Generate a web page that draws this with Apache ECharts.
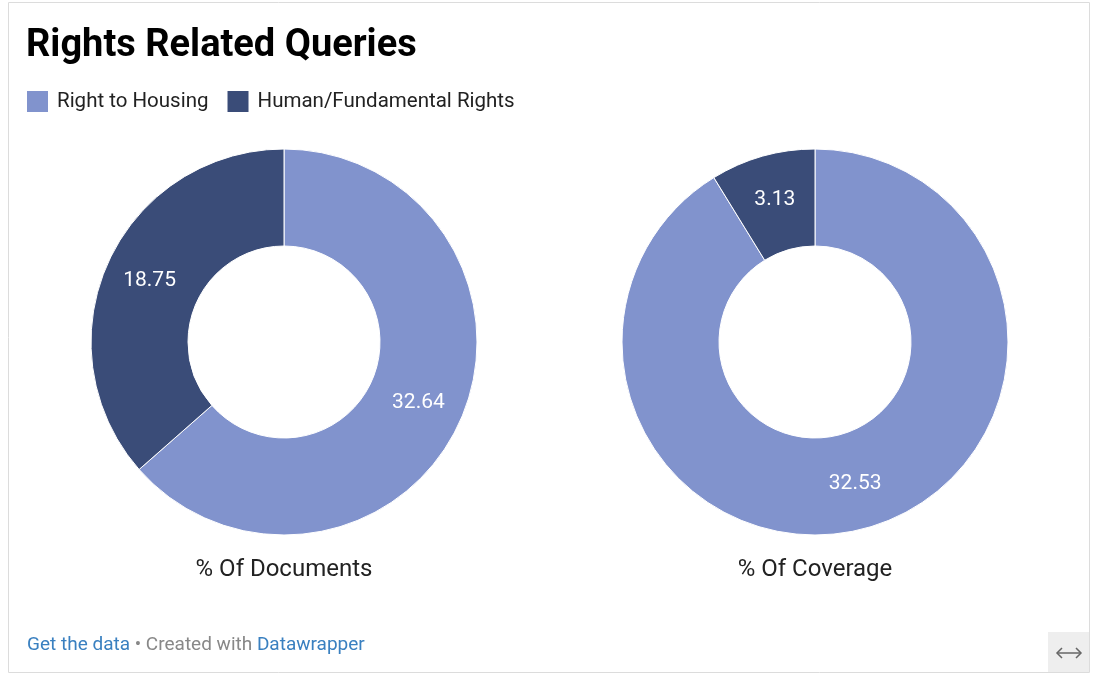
<!DOCTYPE html>
<html><head><meta charset="utf-8">
<script src="https://cdn.jsdelivr.net/npm/echarts@6/dist/echarts.min.js"></script>
<style>html,body{margin:0;padding:0;background:#fff}#c{width:1096px;height:677px}</style>
</head><body><div id="c"></div>
<script>
const categories = ['Right to Housing', 'Human/Fundamental Rights'];
const documentsValues = [32.64, 18.75];
const coverageValues = [32.53, 3.13];
const chartTitles = ['% Of Documents', '% Of Coverage'];
const colors = ['#8193cd', '#3a4c78'];

const chart = echarts.init(document.getElementById('c'));
const font = 'Roboto, "Noto Sans", sans-serif';
function pie(vals, cx) {
  return {
    type: 'pie', center: [cx, 342], radius: [96, 193], startAngle: 90, clockwise: true,
    silent: true, animation: false,
    itemStyle: { borderColor: '#fff', borderWidth: 1 },
    label: { position: 'inside', color: '#fff', fontSize: 21, fontFamily: font, formatter: p => p.value.toFixed(2) },
    labelLine: { show: false },
    data: vals.map((v, i) => ({ name: categories[i], value: v, itemStyle: { color: colors[i] } }))
  };
}
chart.setOption({
  animation: false,
  color: colors,
  title: [
    { text: 'Rights Related Queries', left: 21, top: 22, textStyle: { fontFamily: font, fontSize: 38, fontWeight: 'bold', color: '#000' } },
    { text: chartTitles[0], left: 279, textAlign: 'center', top: 553, textStyle: { fontFamily: font, fontSize: 24, fontWeight: 'normal', color: '#222' } },
    { text: chartTitles[1], left: 810, textAlign: 'center', top: 553, textStyle: { fontFamily: font, fontSize: 24, fontWeight: 'normal', color: '#222' } }
  ],
  legend: {
    left: 20, top: 84, icon: 'rect', itemWidth: 23, itemHeight: 23, itemGap: 17,
    selectedMode: false,
    textStyle: { fontFamily: font, fontSize: 20.5, color: '#222', padding: [0, 0, 0, 3] },
    data: categories
  },
  graphic: [
    { type: 'rect', shape: { x: 8.5, y: 2.5, width: 1081, height: 670 }, style: { fill: 'none', stroke: '#dcdcdc', lineWidth: 1 }, z: -1 },
    { type: 'rect', shape: { x: 1048, y: 632, width: 41, height: 40 }, style: { fill: '#eeeeee' } },
    { type: 'polyline', shape: { points: [[1057, 653], [1081, 653]] }, style: { stroke: '#666', lineWidth: 1.5, fill: 'none' } },
    { type: 'polyline', shape: { points: [[1062, 648], [1057, 653], [1062, 658]] }, style: { stroke: '#666', lineWidth: 1.5, fill: 'none' } },
    { type: 'polyline', shape: { points: [[1076, 648], [1081, 653], [1076, 658]] }, style: { stroke: '#666', lineWidth: 1.5, fill: 'none' } },
    { type: 'text', x: 27, y: 645, style: {
      text: '{a|Get the data}{b| • Created with }{a|Datawrapper}', verticalAlign: 'middle',
      rich: { a: { fontFamily: font, fontSize: 19, fill: '#3a80c0' }, b: { fontFamily: font, fontSize: 19, fill: '#888' } } } }
  ],
  series: [pie(documentsValues, 284), pie(coverageValues, 815)]
});
</script></body></html>
